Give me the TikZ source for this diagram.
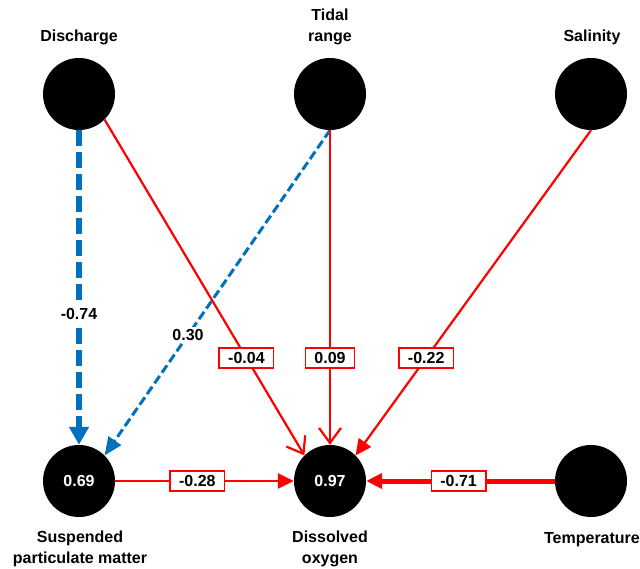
\documentclass[tikz,border=0pt]{standalone}
\usepackage{fontspec}
\setmainfont{Liberation Sans}
\usetikzlibrary{arrows.meta}
\definecolor{pblue}{RGB}{0,112,192}
\definecolor{pred}{RGB}{255,0,0}
\begin{document}
\begin{tikzpicture}[x=1pt,y=-1pt,
  var/.style={circle,fill=black,minimum size=72pt,inner sep=0pt,text=white,
    font=\fontsize{16}{18}\selectfont\bfseries},
  vname/.style={align=center,inner sep=0pt,font=\fontsize{16}{20.5}\selectfont\bfseries},
  coef/.style={draw=pred,line width=1.6pt,fill=white,text=black,
    font=\fontsize{16}{19}\selectfont\bfseries,inner xsep=9pt,inner ysep=0pt,
    minimum height=20pt,text height=11.5pt,text depth=0pt},
  bcoef/.style={fill=white,text=black,font=\fontsize{16}{19}\selectfont\bfseries,
    inner sep=2pt},
  redopen/.style={draw=pred,line width=2.2pt,-{Straight Barb[length=15pt,width=22pt]}},
  redfill/.style={draw=pred,-{Triangle[length=16pt,width=15pt]}},
  bluethick/.style={draw=pblue,line width=6pt,dash pattern=on 16pt off 6pt,
    -{Triangle[length=18pt,width=19pt]}},
  bluethin/.style={draw=pblue,line width=3pt,dash pattern=on 9pt off 4pt,
    -{Triangle[length=18pt,width=15pt]}}
]
\useasboundingbox (0,0) rectangle (640,568);

% variables
\node[var] (dis) at (79,94) {};
\node[var] (tid) at (330,94) {};
\node[var] (sal) at (591,94) {};
\node[var] (spm) at (79,481) {0.69};
\node[var] (do) at (330,481) {0.97};
\node[var] (tem) at (591,481) {};

% names
\node[vname,anchor=base] (ldis) at (79,41) {Discharge};
\node[vname,anchor=base] (ltid) at (330,41) {Tidal\\range};
\node[vname,anchor=base] (lsal) at (592,41) {Salinity};
\node[vname,anchor=base] (lspm) at (80,563) {Suspended\\particulate matter};
\node[vname,anchor=base] (ldo) at (330,563) {Dissolved\\oxygen};
\node[vname,anchor=base] (ltem) at (592,543) {Temperature};

% paths
\draw[bluethick] (dis.south) -- (spm.north)
  node[bcoef,pos=0.584] (c1) {-0.74};
\draw[bluethin] (tid.south) -- (spm.45)
  node[bcoef,pos=0.63] (c2) {0.30};
\draw[redopen] (dis.-45) -- (do.135)
  node[coef,pos=0.71] (c3) {-0.04};
\draw[redopen] (tid.south) -- (do.north)
  node[coef,pos=0.724] (c4) {0.09};
\draw[redfill,line width=2.2pt] (sal.south) -- (do.45)
  node[coef,pos=0.70] (c5) {-0.22};
\draw[redfill,line width=2.6pt] (spm.east) -- (do.west)
  node[coef,pos=0.46] (c6) {-0.28};
\draw[redfill,line width=5pt] (tem.west) -- (do.east)
  node[coef,pos=0.51] (c7) {-0.71};
\end{tikzpicture}
\end{document}
